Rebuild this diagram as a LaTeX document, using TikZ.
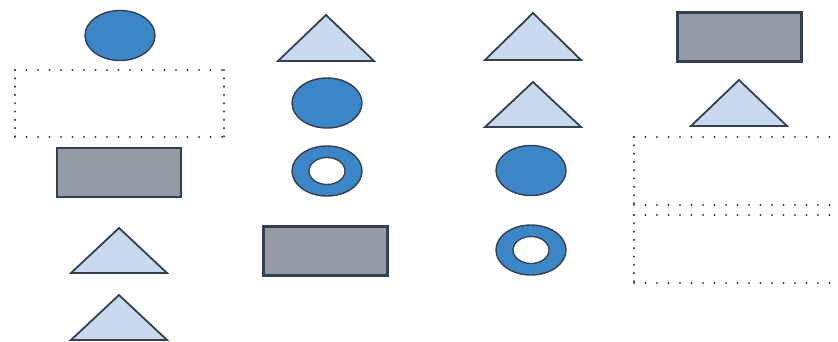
\documentclass[tikz,border=0pt]{standalone}
\usetikzlibrary{shapes.geometric}
\definecolor{azul}{RGB}{60,133,198}
\definecolor{azulclaro}{RGB}{201,217,238}
\definecolor{cinza}{RGB}{148,154,166}
\definecolor{contorno}{RGB}{52,64,80}
\definecolor{pontos}{RGB}{60,70,88}
\tikzset{
  disco/.style={ellipse, draw=contorno, fill=azul, line width=1.4pt, minimum width=70, minimum height=50, inner sep=0},
  furo/.style={ellipse, draw=contorno, fill=white, line width=1.3pt, minimum width=36, minimum height=27, inner sep=0},
  caixa/.style={rectangle, draw=contorno, fill=cinza, line width=2.2pt, minimum width=124, minimum height=49, inner sep=0},
  tri/.style={draw=contorno, fill=azulclaro, line width=1.8pt, line join=miter},
  vazio/.style={draw=pontos, line width=2.4pt, dash pattern=on 0pt off 11.5pt, line cap=round},
  vaziov/.style={draw=pontos, line width=2.4pt, dash pattern=on 0pt off 8.3pt, line cap=round},
}
\begin{document}
\begin{tikzpicture}[x=1pt, y=-1pt]
    \useasboundingbox (0,0) rectangle (838,341);
    \clip (0,0) rectangle (838,341);
    % discos cheios
    \node[disco] (disco1) at (120,35.5) {};
    \node[disco] (disco2) at (327,103) {};
    \node[disco] (disco3) at (531,170.5) {};
    % aneis
    \node[disco] (anel1) at (327,171) {};
    \node[furo] (furo1) at (anel1) {};
    \node[disco] (anel2) at (531,250) {};
    \node[furo] (furo2) at (anel2) {};
    % caixas cinzentas
    \node[caixa] (caixa1) at (119,172.5) {};
    \node[caixa] (caixa2) at (325.5,251) {};
    \node[caixa] (caixa3) at (739.5,37) {};
    % triangulos: x do vertice / y do vertice / y da base
    \foreach \x/\ya/\yb in {119/228/273, 119/295/340, 326/15/61, 533/13/60, 533/82/127, 739/80/126} {
        \draw[tri] (\x-48,\yb) -- (\x,\ya) -- (\x+48,\yb) -- cycle;
    }
    % caixas vazias pontilhadas
    \foreach \xa/\ya/\xb/\yb in {15/70/224/137, 634/137/852/205, 634/215/852/283} {
        \draw[vazio] (\xa,\ya) -- (\xb,\ya) (\xa,\yb) -- (\xb,\yb);
        \draw[vaziov] (\xa,\ya) -- (\xa,\yb) (\xb,\ya) -- (\xb,\yb);
    }
\end{tikzpicture}
\end{document}
